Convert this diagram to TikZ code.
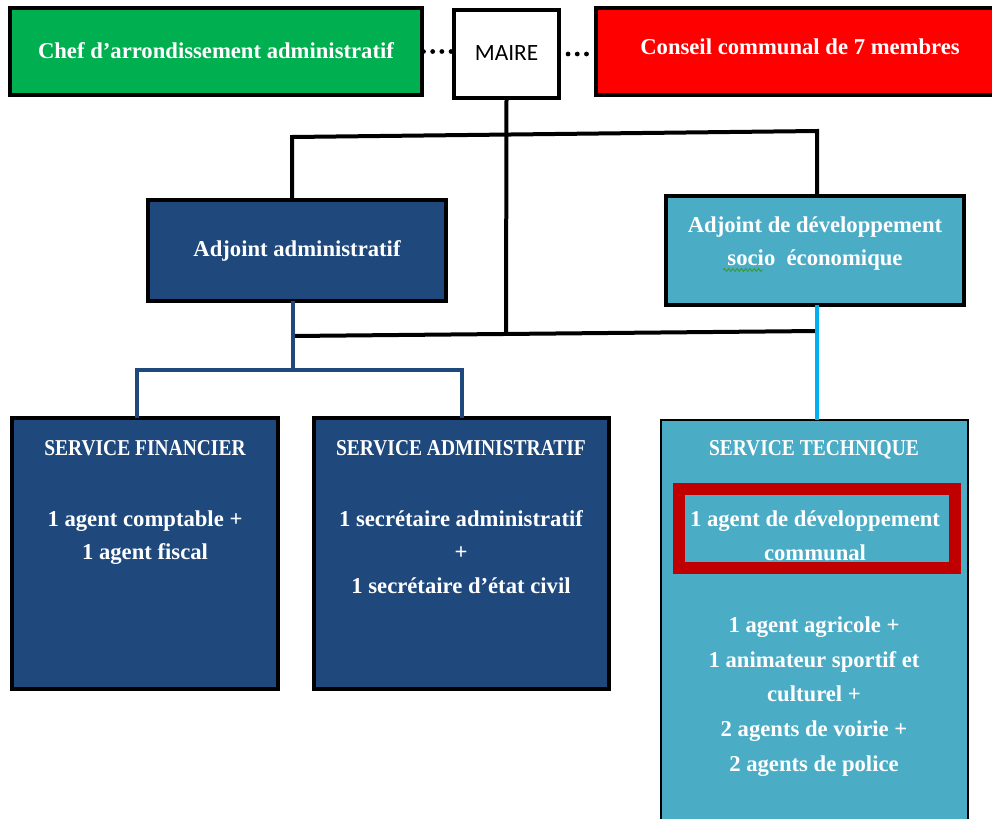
\documentclass[tikz,border=0pt]{standalone}
\usepackage{fontspec}
\setmainfont{Liberation Serif}
\newfontfamily\capsfont{Liberation Serif}[FakeStretch=0.86]
\newfontfamily\calib{Carlito}
\usetikzlibrary{decorations.pathmorphing}
\definecolor{cgreen}{HTML}{00B050}
\definecolor{cred}{HTML}{FF0000}
\definecolor{dblue}{HTML}{1F497D}
\definecolor{lblue}{HTML}{4BACC6}
\definecolor{cdred}{HTML}{C00000}
\definecolor{sky}{HTML}{00B0F0}
\definecolor{spell}{HTML}{3A9A3A}
\begin{document}
\begin{tikzpicture}[x=0.75pt,y=-0.75pt,
  box/.style={draw=black,line width=2.4pt,inner sep=0pt,outer sep=0pt},
  txt/.style={text=white,font=\bfseries\fontsize{17}{25}\selectfont,align=center,inner sep=0pt,text height=12pt,text depth=3.5pt,yshift=-1.8pt},
  ttl/.style={txt,font=\capsfont\bfseries\fontsize{17}{25}\selectfont},
  blk/.style={draw=black,line width=3pt},
  dbl/.style={draw=dblue,line width=2.4pt},
  lbl/.style={draw=sky,line width=2.4pt},
  dotsty/.style={draw=black,line width=3.6pt,line cap=round,dash pattern=on 0pt off 6.9pt},
]
\useasboundingbox (0,0) rectangle (992,818);
\clip (0,0) rectangle (992,818);

% junction coordinates
\coordinate (hl) at (292,137);
\coordinate (hr) at (817,131);
\coordinate (bl) at (293,336);
\coordinate (br) at (817,331);
\coordinate (bj) at (506,333.5);
\coordinate (bm) at (293,370);
\coordinate (fl) at (137,370);
\coordinate (fr) at (462,370);

% top row
\node[box,fill=cgreen,minimum width=412*0.75pt,minimum height=87*0.75pt] (chef) at (216,51.5) {};
\node[box,fill=white,minimum width=105*0.75pt,minimum height=88*0.75pt] (maire) at (506.5,54) {};
\node[box,fill=cred,minimum width=408*0.75pt,minimum height=87*0.75pt] (conseil) at (800,51.5) {};

% adjoints
\node[box,fill=dblue,minimum width=298*0.75pt,minimum height=101*0.75pt] (adm) at (297,250.5) {};
\node[box,fill=lblue,minimum width=298*0.75pt,minimum height=109*0.75pt] (dev) at (815,250.5) {};

% services
\node[box,fill=dblue,minimum width=266*0.75pt,minimum height=271*0.75pt] (fin) at (145,553.5) {};
\node[box,fill=dblue,minimum width=295*0.75pt,minimum height=271*0.75pt] (sadm) at (461.5,553.5) {};
\node[box,line width=1.6pt,fill=lblue,minimum width=307*0.75pt,minimum height=410*0.75pt] (tech) at (814.5,625) {};
\node[draw=cdred,line width=9pt,inner sep=0pt,minimum width=276*0.75pt,minimum height=79*0.75pt] (redbox) at (817,528.5) {};

% connectors
\draw[dotsty] ([xshift=1.1pt]chef.east) -- (chef.east -| maire.west);
\draw[dotsty] ([xshift=6.8pt]maire.east) -- ([xshift=-3pt]maire.east -| conseil.west);
\draw[blk] (maire.south) -- (bj);
\draw[blk] (adm.north -| hl) -- (hl) -- (hr) -- (dev.north -| hr);
\draw[blk] (bl) -- (br);
\draw[dbl] (adm.south -| bm) -- (bm);
\draw[dbl] (fin.north -| fl) -- (fl) -- (fr) -- (sadm.north -| fr);
\draw[lbl] (dev.south -| br) -- (tech.north -| br);

% texts
\node[txt] (tchef) at (216,50) {Chef d’arrondissement administratif};
\node[txt] (tcons) at (800,46) {Conseil communal de 7 membres};
\node[inner sep=0pt,text height=12pt,text depth=3.5pt,yshift=-1.8pt,font=\calib\fontsize{17.5}{21}\selectfont] (tmaire) at (506.5,52) {MAIRE};

\node[txt] (tadm) at (297,248) {Adjoint administratif};
\node[txt] (tdev1) at (815,224) {Adjoint de développement};
\node[txt] (tdev2) at (815,257) {socio\ \ économique};
\draw[spell,line width=0.7pt,decorate,decoration={snake,amplitude=1.1pt,segment length=3.2pt}] (723,270) -- (763,270);

\node[ttl] (tf1) at (145,447) {SERVICE FINANCIER};
\node[txt] (tf2) at (145,518) {1 agent comptable +};
\node[txt] (tf3) at (145,551) {1 agent fiscal};

\node[ttl] (ts1) at (461,447) {SERVICE ADMINISTRATIF};
\node[txt] (ts2) at (461,518) {1 secrétaire administratif};
\node[txt] (ts3) at (461,551) {+};
\node[txt] (ts4) at (461,585) {1 secrétaire d’état civil};

\node[ttl] (tt1) at (814,447) {SERVICE TECHNIQUE};
\node[txt] (tt2) at (815,518) {1 agent de développement};
\node[txt] (tt3) at (815,552) {communal};
\node[txt] (tt4) at (814,624) {1 agent agricole +};
\node[txt] (tt5) at (814,659) {1 animateur sportif et};
\node[txt] (tt6) at (814,693) {culturel +};
\node[txt] (tt7) at (814,728) {2 agents de voirie +};
\node[txt] (tt8) at (814,763) {2 agents de police};
\end{tikzpicture}
\end{document}
